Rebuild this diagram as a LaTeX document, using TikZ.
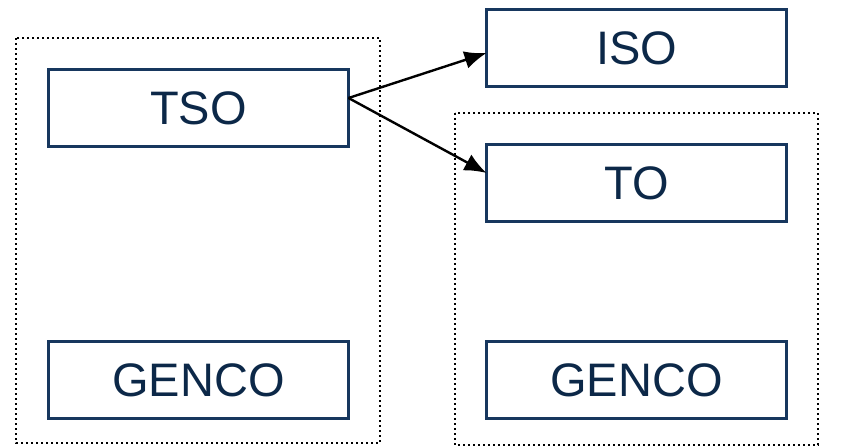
\documentclass[tikz,border=0pt]{standalone}
\usepackage{fontspec}
\setmainfont{Liberation Sans}
\usetikzlibrary{arrows.meta}
\definecolor{navy}{RGB}{23,55,94}
\definecolor{navytext}{RGB}{12,40,72}
\begin{document}
\begin{tikzpicture}[x=1pt,y=-1pt,
  rolebox/.style={draw=navy, line width=3.2pt, minimum width=300pt, minimum height=77pt,
    inner sep=0pt, outer sep=0pt, text=navytext, font=\fontsize{47}{52}\selectfont, anchor=north west},
  group/.style={draw=black, line width=2pt, dash pattern=on 2pt off 3pt},
  link/.style={draw=black, line width=2.4pt, -{Latex[length=22pt,width=18pt]}}]
\useasboundingbox (0,0) rectangle (841,446);
\draw[group] (16,38) rectangle (380,443);
\draw[group] (455,113) rectangle (818,445);
\node[rolebox] (tso) at (48.5,69.5) {TSO};
\node[rolebox] (iso) at (486.5,9.5) {ISO};
\node[rolebox] (to) at (486.5,144.5) {TO};
\node[rolebox] (genco1) at (48.5,341.5) {GENCO};
\node[rolebox] (genco2) at (486.5,341.5) {GENCO};
\coordinate (src) at ([yshift=10pt]tso.east);
\coordinate (isoin) at ([yshift=-5pt]iso.west);
\coordinate (toin) at ([yshift=10pt]to.west);
\draw[link] (src) -- (isoin);
\draw[link] (src) -- (toin);
\end{tikzpicture}
\end{document}
